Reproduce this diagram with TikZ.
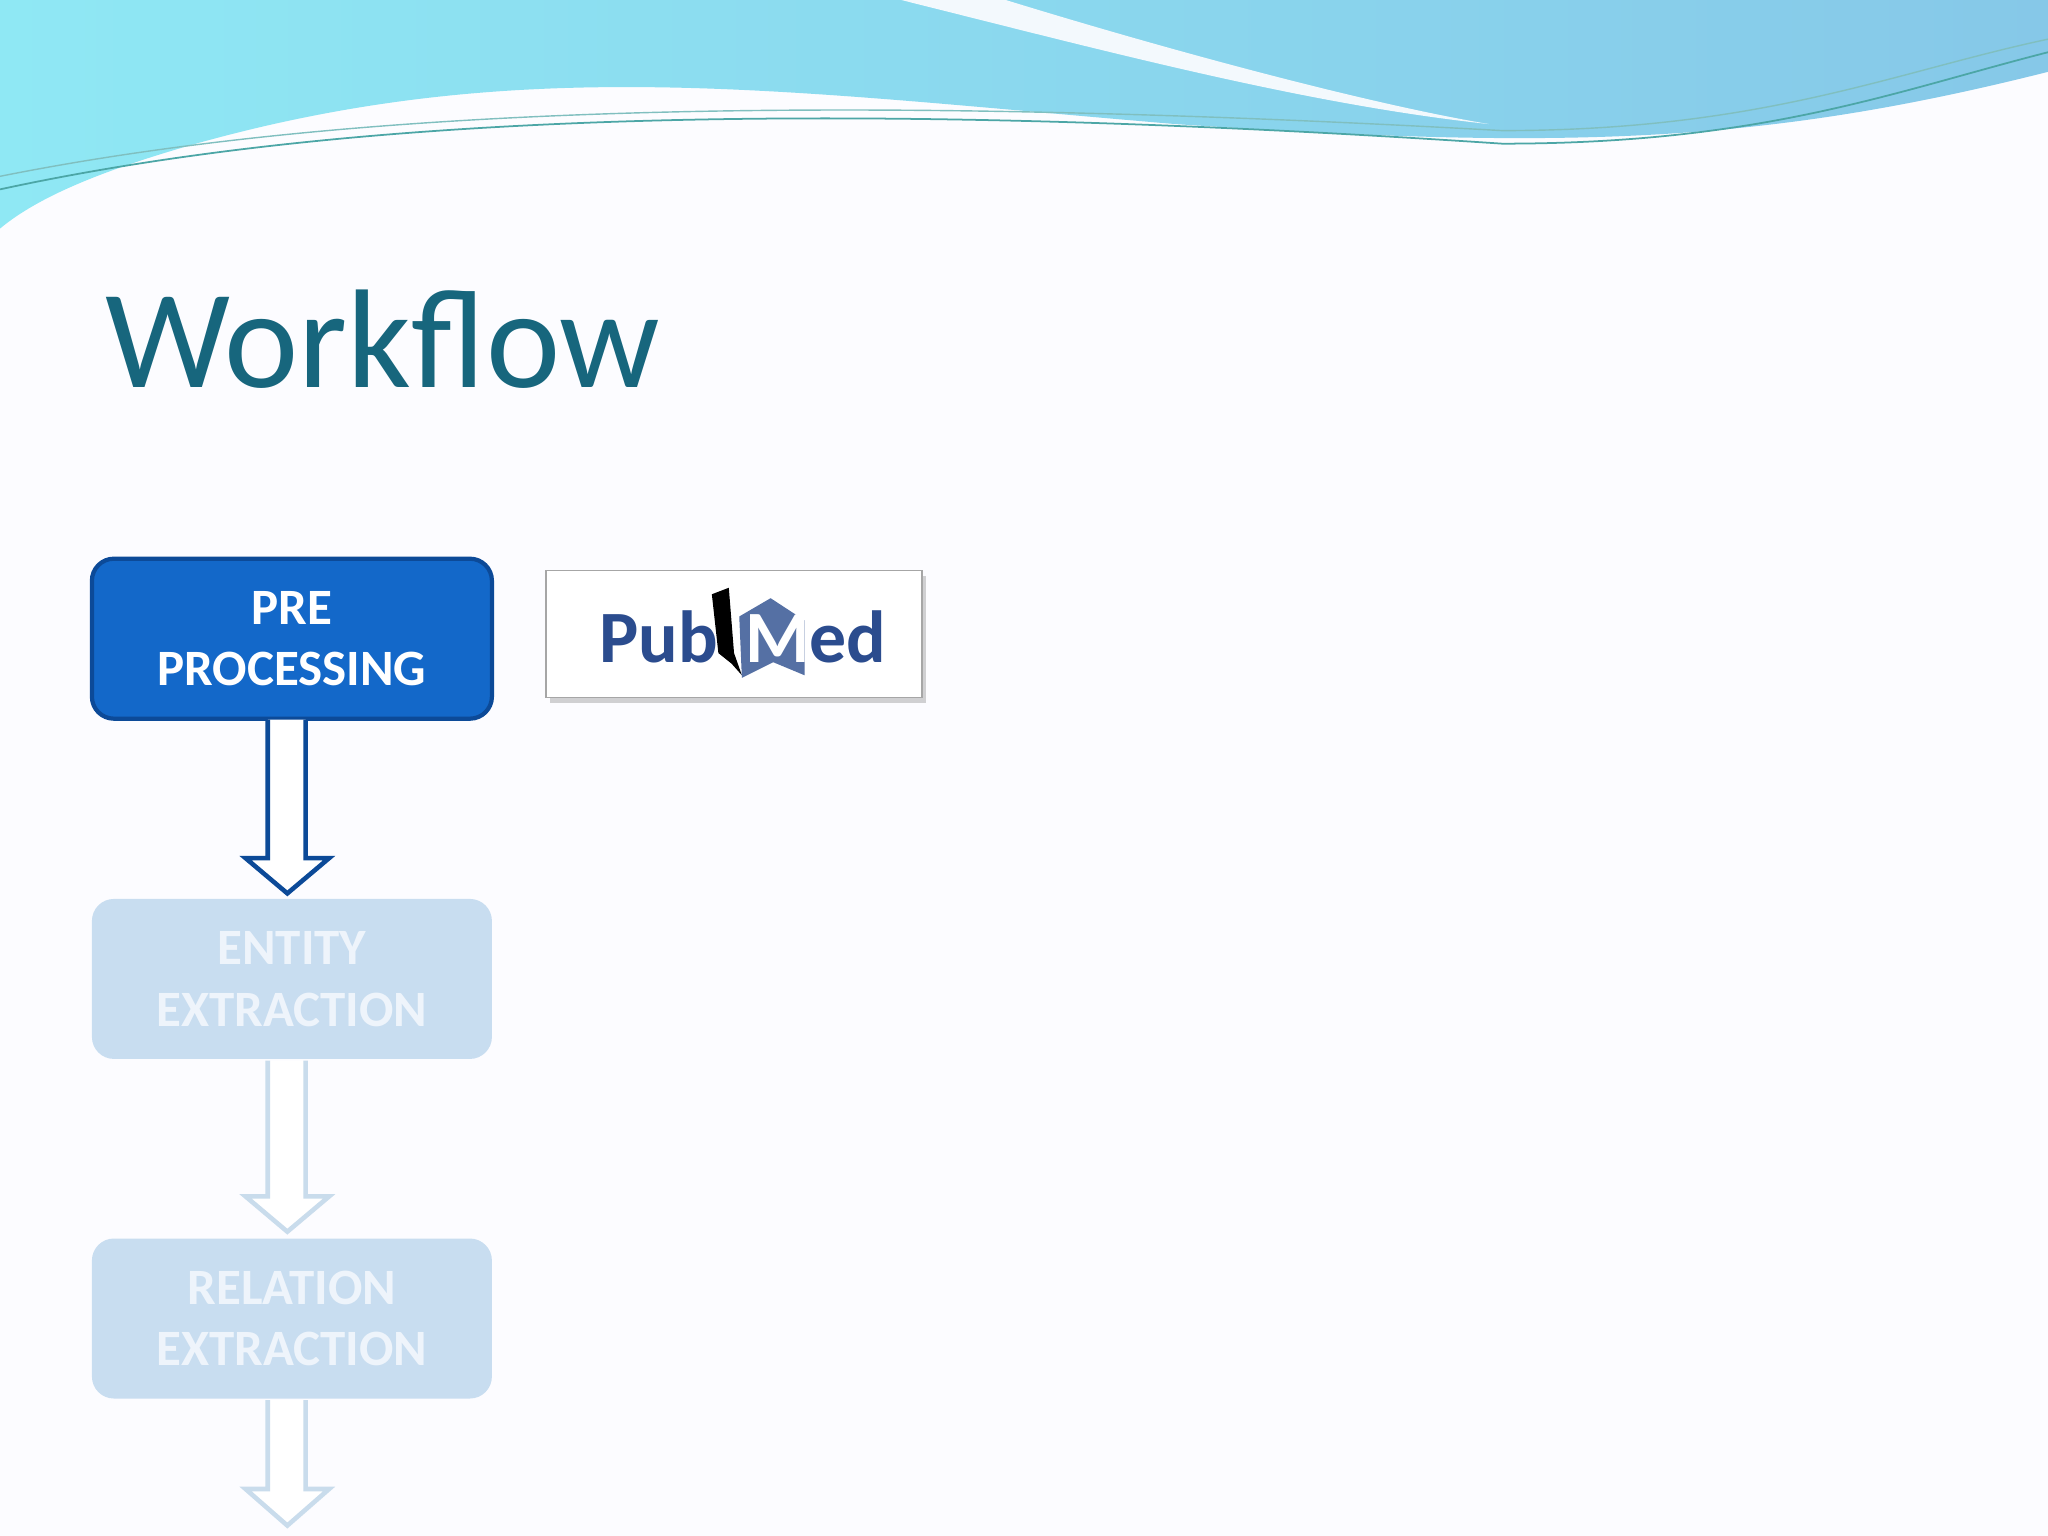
\documentclass[tikz,border=0pt]{standalone}
\usepackage{fontspec}
\setmainfont{Carlito}
\usetikzlibrary{shadows}
\definecolor{titleteal}{HTML}{17667D}
\definecolor{stepblue}{HTML}{1368C9}
\definecolor{stepedge}{HTML}{0C4A98}
\definecolor{palebox}{HTML}{C8DDF0}
\definecolor{paletext}{HTML}{EEF4FB}
\definecolor{palearrow}{HTML}{C9DCEC}
\definecolor{waveA}{HTML}{8FE8F4}
\definecolor{waveB}{HTML}{86C8E8}
\definecolor{pubblue}{HTML}{2B4C8E}
\begin{document}
\begin{tikzpicture}[x=0.01306cm,y=-0.01306cm,
  stepbox/.style={rectangle, rounded corners=2.2mm, minimum width=4.0cm, minimum height=1.6cm,
    align=center, font=\fontsize{14.5}{17.5}\selectfont\bfseries},
  active/.style={stepbox, fill=stepblue, draw=stepedge, line width=1.2pt, text=white},
  inactive/.style={stepbox, fill=palebox, draw=none, text=paletext},
  hollow/.style={line width=1.3pt, fill=white, line join=miter},
  logotext/.style={text=pubblue, font=\fontsize{21}{22}\selectfont\bfseries, inner sep=0pt}]
\useasboundingbox (0,0) rectangle (1568,1176);
\fill[white!96!blue!30] (0,0) rectangle (1568,1176);
% top wave
\shade[left color=waveA, right color=waveB]
  (0,0) -- (1568,0) -- (1568,55) .. controls (1350,110) and (1200,115) .. (900,95)
  .. controls (600,70) and (400,40) .. (150,110) .. controls (80,130) and (30,150) .. (0,175) -- cycle;
\fill[white!90!waveB] (690,0) -- (770,0) .. controls (900,40) and (1050,80) .. (1140,95)
  .. controls (1000,80) and (850,40) .. (690,0) -- cycle;
\draw[teal!70, line width=0.5pt] (0,145) .. controls (300,80) and (700,80) .. (1150,110)
  .. controls (1350,110) and (1450,70) .. (1568,40);
\draw[teal!50, line width=0.4pt] (0,135) .. controls (300,75) and (700,75) .. (1150,100)
  .. controls (1350,100) and (1450,55) .. (1568,30);
% title
\node[anchor=base west, text=titleteal, font=\fontsize{40}{44}\selectfont, inner sep=0pt]
  (title) at (80,297) {Workflow};
% steps
\node[active] (pre) at (223.5,489) {PRE\\PROCESSING};
\node[inactive] (ent) at (223.5,749.5) {ENTITY\\EXTRACTION};
\node[inactive] (rel) at (223.5,1009.5) {RELATION\\EXTRACTION};
% hollow arrows
\draw[hollow, draw=stepedge] (205,551) -- (205,657) -- (188,657) -- (220,684) -- (252,657)
  -- (234,657) -- (234,551);
\draw[hollow, draw=palearrow] (205,812) -- (205,916) -- (188,916) -- (220,943) -- (252,916)
  -- (234,916) -- (234,812);
\draw[hollow, draw=palearrow] (205,1072) -- (205,1140) -- (188,1140) -- (220,1168) -- (252,1140)
  -- (234,1140) -- (234,1072);
% PubMed logo
\node[rectangle, draw=gray!70, fill=white, minimum width=3.76cm, minimum height=1.27cm,
  drop shadow={shadow xshift=1pt, shadow yshift=-1.5pt, opacity=0.35}] (logo) at (562,485.5) {};
\node[anchor=base east, logotext] (pub) at (550,507) {Pub};
\fill[black] (545,455) -- (558,450) -- (562,500) -- (568,517) -- (560,508) -- (550,500) -- cycle;
\fill[pubblue!80] (566,472) -- (590,458) -- (616,475) -- (616,517) -- (592,507) -- (568,519) -- cycle;
\node[anchor=base west, logotext] (med) at (570,507) {{\color{white}M}ed};
\end{tikzpicture}
\end{document}
